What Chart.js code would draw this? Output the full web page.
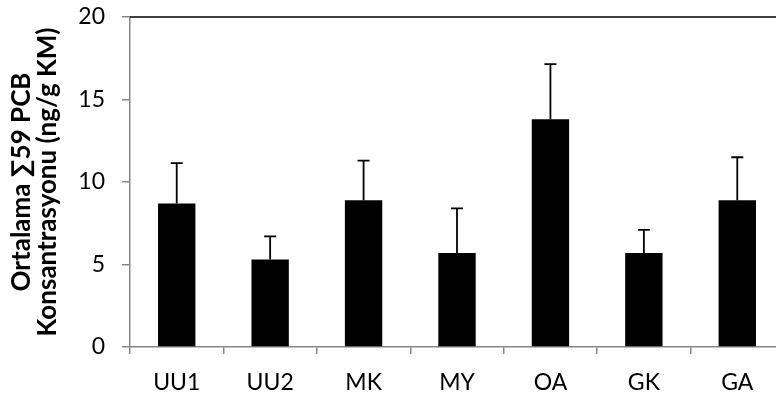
<!DOCTYPE html>
<html>
<head>
<meta charset="utf-8">
<script src="https://cdn.jsdelivr.net/npm/chart.js@4/dist/chart.umd.min.js"></script>
<style>
  html, body { margin: 0; padding: 0; background: #fff; overflow: hidden; }
  #wrap { position: relative; width: 784px; height: 395px; }
</style>
</head>
<body>
<div id="wrap"><canvas id="c"></canvas></div>
<script>
// Sampling sites
const categories = ['UU1', 'UU2', 'MK', 'MY', 'OA', 'GK', 'GA'];
// Mean Σ59 PCB concentration (ng/g KM) per site
const means = [8.7, 5.3, 8.9, 5.7, 13.8, 5.7, 8.9];
// Upper error (standard deviation) per site
const errors = [2.45, 1.4, 2.4, 2.7, 3.35, 1.4, 2.6];
// Y axis tick values
const yTicks = [0, 5, 10, 15, 20];

const AXIS_GRAY = '#868686';
const FONT = "Lato, 'Open Sans', sans-serif";

// Upper error whiskers with a short cap, placed from each bar's own geometry
const errorBars = {
  id: 'errorBars',
  afterDatasetsDraw(chart) {
    const ctx = chart.ctx;
    const y = chart.scales.y;
    const meta = chart.getDatasetMeta(0);
    ctx.save();
    ctx.strokeStyle = '#000';
    ctx.lineWidth = 1.8;
    meta.data.forEach((bar, i) => {
      const top = y.getPixelForValue(means[i] + errors[i]);
      ctx.beginPath();
      ctx.moveTo(bar.x, bar.y);
      ctx.lineTo(bar.x, top);
      ctx.moveTo(bar.x - 6, top);
      ctx.lineTo(bar.x + 6, top);
      ctx.stroke();
    });
    ctx.restore();
  }
};

// Plot-area top border
const topBorder = {
  id: 'topBorder',
  afterDraw(chart) {
    const { ctx, chartArea } = chart;
    ctx.save();
    ctx.strokeStyle = '#000';
    ctx.lineWidth = 1.5;
    ctx.beginPath();
    ctx.moveTo(chartArea.left, chartArea.top);
    ctx.lineTo(chartArea.right + 2, chartArea.top);
    ctx.stroke();
    ctx.restore();
  }
};

new Chart(document.getElementById('c'), {
  type: 'bar',
  data: {
    labels: categories,
    datasets: [{
      data: means,
      backgroundColor: '#000',
      borderWidth: 0,
      barPercentage: 0.4,
      categoryPercentage: 1.0
    }]
  },
  options: {
    responsive: true,
    maintainAspectRatio: false,
    animation: false,
    layout: { padding: { left: 0, right: 0, top: 17, bottom: 0 } },
    plugins: {
      legend: { display: false },
      tooltip: { enabled: false }
    },
    scales: {
      x: {
        afterFit(scale) { scale.height = 48; },
        grid: {
          display: true,
          offset: true,
          drawOnChartArea: false,
          drawTicks: true,
          tickLength: 7,
          color: AXIS_GRAY,
          lineWidth: 1.5
        },
        border: { display: true, color: AXIS_GRAY, width: 1.5 },
        ticks: {
          color: '#000',
          padding: 15,
          font: { family: FONT, size: 23, lineHeight: 1.2 }
        }
      },
      y: {
        min: 0,
        max: 20,
        afterFit(scale) {
          scale.width = 130;
          scale.paddingTop = 0;
          scale.paddingBottom = 0;
        },
        afterBuildTicks(scale) { scale.ticks = yTicks.map(v => ({ value: v })); },
        grid: {
          display: true,
          drawOnChartArea: false,
          drawTicks: true,
          tickLength: 8,
          color: AXIS_GRAY,
          lineWidth: 1.5
        },
        border: { display: true, color: AXIS_GRAY, width: 1.5 },
        ticks: {
          color: '#000',
          padding: 17,
          font: { family: FONT, size: 23, lineHeight: 1.2 }
        },
        title: {
          display: true,
          text: ['Ortalama ∑59 PCB', 'Konsantrasyonu (ng/g KM)'],
          color: '#000',
          padding: { top: 9, bottom: 0 },
          font: { family: FONT, size: 26, weight: 'bold', lineHeight: 0.98 }
        }
      }
    }
  },
  plugins: [errorBars, topBorder]
});
</script>
</body>
</html>
